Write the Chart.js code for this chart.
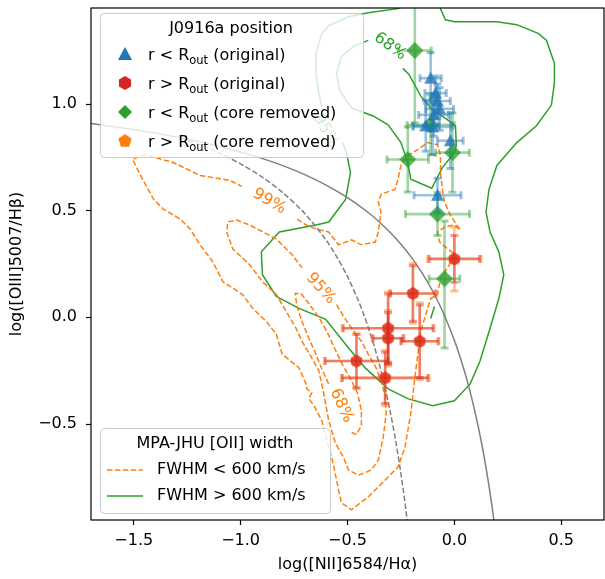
<!DOCTYPE html>
<html>
<head>
<meta charset="utf-8">
<script src="https://cdn.jsdelivr.net/npm/chart.js@4.4.0/dist/chart.umd.min.js"></script>
<style>
  html, body { margin: 0; padding: 0; background: #fff; overflow: hidden; }
  canvas { display: block; }
</style>
</head>
<body>
<canvas id="bpt" width="612" height="579"></canvas>
<script>
// Kewley (solid) and Kauffmann (dashed) demarcation lines
const kewleyX = [-1.7, -1.6, -1.5, -1.4, -1.3, -1.2, -1.1, -1.0, -0.9, -0.8, -0.7, -0.6, -0.5, -0.4, -0.35, -0.3, -0.25, -0.2, -0.15, -0.1, -0.05, 0.0, 0.025, 0.05, 0.075, 0.1, 0.125, 0.15, 0.175, 0.2];
const kewleyY = [0.909, 0.895, 0.880, 0.864, 0.845, 0.825, 0.801, 0.775, 0.745, 0.710, 0.669, 0.620, 0.561, 0.489, 0.446, 0.398, 0.343, 0.280, 0.206, 0.120, 0.017, -0.108, -0.181, -0.262, -0.354, -0.459, -0.578, -0.716, -0.878, -1.069];
const kauffX = [-1.28, -1.2, -1.1, -1.0, -0.9, -0.8, -0.7, -0.6, -0.55, -0.5, -0.45, -0.425, -0.4, -0.375, -0.35, -0.325, -0.3, -0.275, -0.25, -0.225, -0.2];
const kauffY = [0.841, 0.812, 0.770, 0.719, 0.658, 0.582, 0.487, 0.362, 0.283, 0.191, 0.080, 0.016, -0.056, -0.135, -0.225, -0.327, -0.443, -0.577, -0.733, -0.918, -1.140];

// MPA-JHU contours, FWHM < 600 km/s (orange dashed)
const narrow99 = [[-0.736, 0.460], [-0.694, 0.433], [-0.648, 0.414], [-0.588, 0.400], [-0.542, 0.340], [-0.481, 0.363], [-0.435, 0.340], [-0.370, 0.353], [-0.356, 0.400], [-0.343, 0.493], [-0.356, 0.540], [-0.343, 0.577], [-0.278, 0.600], [-0.264, 0.647], [-0.250, 0.712], [-0.218, 0.758], [-0.171, 0.786], [-0.125, 0.819], [-0.079, 0.809], [-0.065, 0.758], [-0.065, 0.679], [-0.056, 0.600], [-0.046, 0.540], [-0.019, 0.479], [0.028, 0.409], [0, 0.433], [-0.046, 0.423], [-0.079, 0.400], [-0.069, 0.353], [-0.032, 0.321], [0, 0.298], [-0.023, 0.247], [-0.065, 0.181], [-0.079, 0.107], [-0.111, 0.088], [-0.125, 0.042], [-0.157, -0.065], [-0.171, -0.172], [-0.185, -0.284], [-0.204, -0.451], [-0.231, -0.609], [-0.264, -0.702], [-0.324, -0.763], [-0.403, -0.842], [-0.481, -0.902], [-0.528, -0.870], [-0.542, -0.809], [-0.556, -0.740], [-0.574, -0.656], [-0.597, -0.577], [-0.620, -0.484], [-0.657, -0.414], [-0.681, -0.381], [-0.667, -0.353], [-0.690, -0.335], [-0.694, -0.312], [-0.727, -0.237], [-0.806, -0.172], [-0.833, -0.079], [-0.880, -0.019], [-0.944, 0.042], [-0.991, 0.107], [-1.083, 0.167], [-1.130, 0.260], [-1.190, 0.340], [-1.236, 0.414], [-1.282, 0.460], [-1.361, 0.507], [-1.407, 0.553], [-1.468, 0.665], [-1.505, 0.740], [-1.454, 0.763], [-1.315, 0.726], [-1.190, 0.665], [-1.051, 0.642], [-0.995, 0.614]];
const narrow95 = [[-0.551, 0.060], [-0.519, 0.005], [-0.481, -0.051], [-0.435, -0.112], [-0.403, -0.172], [-0.366, -0.237], [-0.343, -0.298], [-0.324, -0.367], [-0.319, -0.451], [-0.333, -0.563], [-0.356, -0.670], [-0.389, -0.716], [-0.449, -0.740], [-0.495, -0.716], [-0.519, -0.656], [-0.556, -0.591], [-0.588, -0.484], [-0.611, -0.358], [-0.634, -0.251], [-0.667, -0.191], [-0.713, -0.112], [-0.741, -0.051], [-0.787, 0.028], [-0.833, 0.107], [-0.898, 0.167], [-0.958, 0.247], [-1.037, 0.321], [-1.065, 0.400], [-1.060, 0.447], [-1.019, 0.456], [-0.958, 0.433], [-0.833, 0.367], [-0.759, 0.293], [-0.713, 0.233]];
const narrow68 = [[-0.588, -0.312], [-0.620, -0.242], [-0.648, -0.172], [-0.681, -0.098], [-0.713, -0.019], [-0.736, 0.051], [-0.745, 0.112], [-0.718, 0.112], [-0.681, 0.065], [-0.634, 0], [-0.597, -0.065], [-0.565, -0.135], [-0.528, -0.214], [-0.486, -0.288], [-0.454, -0.353], [-0.435, -0.437], [-0.435, -0.507], [-0.458, -0.549], [-0.481, -0.540]];

// MPA-JHU contours, FWHM > 600 km/s (green solid)
const broad95a = [[-0.079, 1.484], [-0.065, 1.447], [-0.042, 1.395], [0, 1.386], [0.199, 1.386], [0.292, 1.372], [0.394, 1.330], [0.431, 1.298], [0.468, 1.191], [0.468, 1.098], [0.454, 0.995], [0.384, 0.898], [0.292, 0.819], [0.199, 0.712], [0.162, 0.600], [0.148, 0.493], [0.167, 0.400], [0.208, 0.307], [0.231, 0.200], [0.208, 0.088], [0.167, -0.051], [0.120, -0.205], [0.074, -0.312], [0, -0.391], [-0.102, -0.414], [-0.218, -0.381], [-0.310, -0.335], [-0.417, -0.237], [-0.495, -0.144], [-0.602, -0.009], [-0.727, 0.042], [-0.833, 0.098], [-0.898, 0.200], [-0.903, 0.307], [-0.819, 0.400], [-0.648, 0.433], [-0.588, 0.447], [-0.509, 0.553], [-0.486, 0.679], [-0.505, 0.772], [-0.523, 0.819]];
const broad95b = [[-0.620, 0.986], [-0.634, 1.051], [-0.648, 1.144], [-0.648, 1.237], [-0.620, 1.330], [-0.588, 1.367], [-0.495, 1.409], [-0.403, 1.428], [-0.264, 1.447], [-0.171, 1.484]];
const broad95c = [[-0.111, -0.005], [-0.093, 0.051]];
const broad68 = [[-0.241, 1.167], [-0.213, 1.140], [-0.157, 1.037], [-0.111, 0.981], [-0.032, 0.926], [0.005, 0.898], [0.009, 0.805], [0, 0.772], [-0.056, 0.702], [-0.106, 0.605], [-0.204, 0.647], [-0.218, 0.726], [-0.250, 0.819], [-0.310, 0.902], [-0.380, 0.944], [-0.481, 0.981], [-0.537, 1.065], [-0.551, 1.144], [-0.528, 1.223], [-0.472, 1.270], [-0.403, 1.298]];

// contour level labels
const levelText = ['99%', '95%', '68%', '68%', '95%'];
const levelX = [-0.866, -0.625, -0.528, -0.301, -0.602];
const levelY = [0.544, 0.135, -0.414, 1.270, 0.874];
const levelAngle = [30, 48, 65, 36, 60];

// J0916a, r < R_out (original)
const blueX = [-0.111, -0.088, -0.079, -0.069, -0.097, -0.134, -0.102, -0.019, -0.079];
const blueY = [1.121, 1.051, 1.014, 0.977, 0.949, 0.898, 0.893, 0.828, 0.572];
const blueXErr = [0.05, 0.05, 0.06, 0.065, 0.07, 0.06, 0.09, 0.06, 0.11];
const blueYErr = [0.12, 0.08, 0.08, 0.10, 0.10, 0.12, 0.13, 0.13, 0.08];

// J0916a, r > R_out (original)
const redX = [0, -0.194, -0.310, -0.310, -0.162, -0.458, -0.324];
const redY = [0.274, 0.112, -0.051, -0.098, -0.112, -0.205, -0.284];
const redXErr = [0.118, 0.104, 0.21, 0.07, 0.086, 0.146, 0.20];
const redYErr = [0.11, 0.13, 0.16, 0.12, 0.17, 0.125, 0.12];

// J0916a, r < R_out (core removed)
const greenX = [-0.185, -0.111, -0.218, -0.009, -0.079, -0.046];
const greenY = [1.251, 0.902, 0.740, 0.772, 0.484, 0.181];
const greenXErr = [0.077, 0.11, 0.097, 0.079, 0.15, 0.072];
const greenYErrLo = [0.34, 0.14, 0.153, 0.186, 0.10, 0.325];
const greenYErrHi = [0.35, 0.14, 0.153, 0.186, 0.10, 0.27];

// J0916a, r > R_out (core removed)
const orangeX = [0, -0.194, -0.310, -0.310, -0.162, -0.458, -0.324];
const orangeY = [0.274, 0.112, -0.051, -0.098, -0.112, -0.205, -0.284];
const orangeXErr = [0.125, 0.11, 0.215, 0.075, 0.09, 0.15, 0.205];
const orangeYErr = [0.15, 0.14, 0.17, 0.13, 0.18, 0.13, 0.13];

const xTicks = [-1.5, -1.0, -0.5, 0.0, 0.5];
const yTicks = [-0.5, 0.0, 0.5, 1.0];

const FONT = "'DejaVu Sans', sans-serif";
const BLUE = '31,119,180', ORANGE = '255,127,14', GREEN = '44,160,44', RED = '214,39,40';

Chart.defaults.font.family = FONT;
Chart.defaults.font.size = 16;
Chart.defaults.color = '#000';

// small canvases used as point styles
function marker(shape, r, fill) {
  const c = document.createElement('canvas');
  const s = Math.ceil(2 * r + 2);
  c.width = c.height = s;
  const g = c.getContext('2d');
  const m = s / 2;
  g.fillStyle = fill;
  g.beginPath();
  if (shape == 'tri') {
    g.moveTo(m, m - r); g.lineTo(m + r, m + r * 0.85); g.lineTo(m - r, m + r * 0.85);
  } else if (shape == 'diamond') {
    g.moveTo(m, m - r); g.lineTo(m + r, m); g.lineTo(m, m + r); g.lineTo(m - r, m);
  } else {
    const n = shape == 'hex' ? 6 : 5;
    for (let k = 0; k < n; k++) {
      const a = -Math.PI / 2 + k * 2 * Math.PI / n;
      g.lineTo(m + r * Math.cos(a), m + r * Math.sin(a));
    }
  }
  g.closePath();
  g.fill();
  return c;
}

function pts(xs, ys) {
  return xs.map((v, i) => ({x: v, y: ys[i]}));
}
function pairs(list) {
  return list.map(p => ({x: p[0], y: p[1]}));
}

function contour(data, rgb, dashed) {
  return {
    type: 'line', data: pairs(data), order: 20,
    borderColor: 'rgb(' + rgb + ')', borderWidth: 1.5,
    borderDash: dashed ? [5.5, 2.4] : [],
    pointRadius: 0, fill: false, tension: 0
  };
}

function points(xs, ys, xe, yLo, yHi, rgb, style, order) {
  return {
    type: 'scatter', data: pts(xs, ys), order: order,
    pointStyle: style, pointRadius: 7,
    errX: xe, errYLo: yLo, errYHi: yHi,
    errColor: 'rgba(' + rgb + ',0.45)'
  };
}

// error bars are drawn right before their own markers
const errorBars = {
  id: 'errorBars',
  beforeDatasetDraw(chart, args) {
    const ds = chart.data.datasets[args.index];
    if (!ds.errX) return;
    const c = chart.ctx, a = chart.chartArea, sx = chart.scales.x, sy = chart.scales.y;
    c.save();
    c.beginPath();
    c.rect(a.left, a.top, a.right - a.left, a.bottom - a.top);
    c.clip();
    c.strokeStyle = ds.errColor;
    ds.data.forEach((p, i) => {
      const px = sx.getPixelForValue(p.x), py = sy.getPixelForValue(p.y);
      const x0 = sx.getPixelForValue(p.x - ds.errX[i]), x1 = sx.getPixelForValue(p.x + ds.errX[i]);
      const y0 = sy.getPixelForValue(p.y - ds.errYLo[i]), y1 = sy.getPixelForValue(p.y + ds.errYHi[i]);
      c.lineWidth = 2.6;
      c.beginPath(); c.moveTo(x0, py); c.lineTo(x1, py); c.stroke();
      c.beginPath(); c.moveTo(px, y0); c.lineTo(px, y1); c.stroke();
      c.lineWidth = 3;
      c.beginPath();
      c.moveTo(x0, py - 4); c.lineTo(x0, py + 4);
      c.moveTo(x1, py - 4); c.lineTo(x1, py + 4);
      c.stroke();
      c.beginPath();
      c.moveTo(px - 4, y0); c.lineTo(px + 4, y0);
      c.moveTo(px - 4, y1); c.lineTo(px + 4, y1);
      c.stroke();
    });
    c.restore();
  }
};

function legendBox(c, x, y, w, h) {
  c.save();
  c.beginPath();
  c.roundRect(x + 0.5, y + 0.5, w, h, 4);
  c.fillStyle = 'rgba(255,255,255,0.8)';
  c.fill();
  c.strokeStyle = '#cccccc';
  c.lineWidth = 1;
  c.stroke();
  c.restore();
}

// "r < R_out (...)" with a real subscript
function routLabel(c, x, y, rel, tail) {
  c.font = '16px ' + FONT;
  c.textAlign = 'left';
  c.textBaseline = 'alphabetic';
  c.fillText('r ' + rel + ' R', x, y);
  x += c.measureText('r ' + rel + ' R').width;
  c.font = '11.5px ' + FONT;
  c.fillText('out', x, y + 4);
  x += c.measureText('out').width;
  c.font = '16px ' + FONT;
  c.fillText(' ' + tail, x, y);
}

const decorations = {
  id: 'decorations',
  afterDatasetsDraw(chart) {
    const c = chart.ctx, sx = chart.scales.x, sy = chart.scales.y;
    // contour level labels
    levelText.forEach((t, i) => {
      c.save();
      c.translate(sx.getPixelForValue(levelX[i]), sy.getPixelForValue(levelY[i]));
      c.rotate(levelAngle[i] * Math.PI / 180);
      c.font = '16px ' + FONT;
      c.textAlign = 'center';
      c.textBaseline = 'middle';
      c.fillStyle = i < 3 ? 'rgb(' + ORANGE + ')' : 'rgb(' + GREEN + ')';
      c.fillText(t, 0, 0);
      c.restore();
    });
  },
  afterDraw(chart) {
    const c = chart.ctx, a = chart.chartArea;
    c.save();
    // position legend
    legendBox(c, 100, 13, 263, 144);
    c.fillStyle = '#000';
    c.font = '16px ' + FONT;
    c.textAlign = 'center';
    c.textBaseline = 'middle';
    c.fillText('J0916a position', 231, 29);
    const icons = [
      marker('tri', 7, 'rgb(' + BLUE + ')'),
      marker('hex', 7, 'rgb(' + RED + ')'),
      marker('diamond', 7, 'rgb(' + GREEN + ')'),
      marker('pent', 7, 'rgb(' + ORANGE + ')')
    ];
    const rels = ['<', '>', '<', '>'];
    const tails = ['(original)', '(original)', '(core removed)', '(core removed)'];
    [54, 83, 112, 141].forEach((yy, i) => {
      c.drawImage(icons[i], 125 - icons[i].width / 2, yy - icons[i].height / 2);
      c.fillStyle = '#000';
      routLabel(c, 148, yy + 6, rels[i], tails[i]);
    });
    // contour legend
    legendBox(c, 100, 428, 230, 85);
    c.fillStyle = '#000';
    c.font = '16px ' + FONT;
    c.textAlign = 'center';
    c.textBaseline = 'middle';
    c.fillText('MPA-JHU [OII] width', 215, 444);
    c.textAlign = 'left';
    c.fillText('FWHM < 600 km/s', 157, 470);
    c.fillText('FWHM > 600 km/s', 157, 496);
    c.lineWidth = 1.5;
    c.strokeStyle = 'rgb(' + ORANGE + ')';
    c.setLineDash([5.5, 2.4]);
    c.beginPath(); c.moveTo(107, 470); c.lineTo(143, 470); c.stroke();
    c.setLineDash([]);
    c.strokeStyle = 'rgb(' + GREEN + ')';
    c.beginPath(); c.moveTo(107, 496); c.lineTo(143, 496); c.stroke();
    // axes frame
    c.strokeStyle = '#000';
    c.lineWidth = 1.2;
    c.strokeRect(a.left, a.top, a.right - a.left, a.bottom - a.top);
    // axis titles
    c.fillStyle = '#000';
    c.font = '16px ' + FONT;
    c.textAlign = 'center';
    c.textBaseline = 'middle';
    c.fillText('log([NII]6584/H\u03b1)', (a.left + a.right) / 2, 565);
    c.translate(17, (a.top + a.bottom) / 2);
    c.rotate(-Math.PI / 2);
    c.fillText('log([OIII]5007/H\u03b2)', 0, 0);
    c.restore();
  }
};

function tickText(v) {
  return v.toFixed(1).replace('-', '\u2212');
}

const chart = new Chart(document.getElementById('bpt').getContext('2d'), {
  data: {
    datasets: [
      points(blueX, blueY, blueXErr, blueYErr, blueYErr, BLUE, marker('tri', 6.5, 'rgba(' + BLUE + ',0.8)'), 4),
      points(greenX, greenY, greenXErr, greenYErrLo, greenYErrHi, GREEN, marker('diamond', 8.5, 'rgba(' + GREEN + ',0.8)'), 5),
      points(redX, redY, redXErr, redYErr, redYErr, RED, marker('hex', 6.5, 'rgba(' + RED + ',0.7)'), 6),
      points(orangeX, orangeY, orangeXErr, orangeYErr, orangeYErr, ORANGE, marker('pent', 6.5, 'rgba(' + ORANGE + ',0.8)'), 7),
      {
        type: 'line', data: pts(kewleyX, kewleyY), order: 15,
        borderColor: 'gray', borderWidth: 1.5, pointRadius: 0, fill: false, tension: 0.3
      },
      {
        type: 'line', data: pts(kauffX, kauffY), order: 15,
        borderColor: 'gray', borderWidth: 1.5, borderDash: [5.5, 2.4], pointRadius: 0, fill: false, tension: 0.3
      },
      contour(narrow99, ORANGE, true),
      contour(narrow95, ORANGE, true),
      contour(narrow68, ORANGE, true),
      contour(broad95a, GREEN, false),
      contour(broad95b, GREEN, false),
      contour(broad95c, GREEN, false),
      contour(broad68, GREEN, false)
    ]
  },
  options: {
    responsive: false,
    animation: false,
    events: [],
    layout: { padding: { left: 0, top: 5, right: 4, bottom: 0 } },
    plugins: { legend: { display: false }, tooltip: { enabled: false } },
    scales: {
      x: {
        type: 'linear', min: -1.7, max: 0.7,
        afterFit(s) { s.height = 59; s.paddingLeft = 0; s.paddingRight = 0; },
        afterBuildTicks(s) { s.ticks = xTicks.map(v => ({value: v})); },
        grid: { drawOnChartArea: false, drawTicks: true, tickLength: 5, tickColor: '#000', tickWidth: 1.2 },
        border: { display: false },
        ticks: { padding: 6, callback: tickText, font: { size: 16 }, color: '#000', maxRotation: 0 }
      },
      y: {
        type: 'linear', min: -0.95, max: 1.45,
        afterFit(s) { s.width = 91; s.paddingTop = 0; s.paddingBottom = 0; },
        afterBuildTicks(s) { s.ticks = yTicks.map(v => ({value: v})); },
        grid: { drawOnChartArea: false, drawTicks: true, tickLength: 5, tickColor: '#000', tickWidth: 1.2 },
        border: { display: false },
        ticks: { padding: 9, callback: tickText, font: { size: 16 }, color: '#000' }
      }
    }
  },
  plugins: [errorBars, decorations]
});
</script>
</body>
</html>
